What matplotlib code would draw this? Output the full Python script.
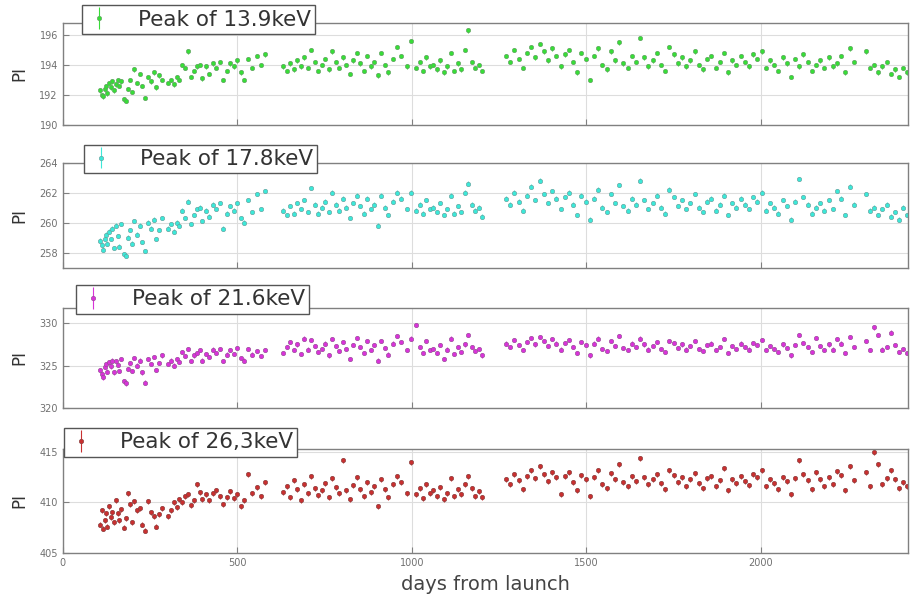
import matplotlib
matplotlib.use("Agg")
import matplotlib.pyplot as plt
import numpy as np

# ---- observation days (shared by all four lines) ----
days_a = [108,112,116,120,124,128,133,138,142,147,152,157,162,168,174,180,186,192,198,205,
          212,220,228,236,244,252,260,268,276,284]
days_b = [300,310,318,326,334,342,350,358,366,375,384,392,400,410,420,430,440,450,460,470,
          480,490,500,510,520,530,542,555,568,580]
days_c = [632,642,652,662,672,682,692,702,712,722,732,742,752,762,772,782,792,802,812,822,
          832,842,852,862,872,882,892,902,912,922,932,945,958,970,985,998]
days_d = [1012,1022,1032,1042,1052,1062,1072,1082,1092,1102,1112,1122,1132,1142,1152,1162,1172,1182,1192,1200]
days_e = [1270,1282,1294,1306,1318,1330,1342,1354,1366,1378,
          1390,1402,1414,1426,1438,1450,1462,1474,1486,1498,
          1510,1522,1534,1546,1558,1570,1582,1594,1606,1618,
          1630,1642,1654,1666,1678,1690,1702,1714,1726,1738,
          1750,1762,1774,1786,1798,1810,1822,1834,1846,1858,
          1870,1882,1894,1906,1918,1930,1942,1954,1966,1978,
          1990,2002,2014,2026,2038,2050,2062,2074,2086,2098,
          2110,2122,2134,2146,2158,2170,2182,2194,2206,2218,
          2230,2242,2254,2266,2300,2312,2324,2336,2348,2360,
          2372,2384,2396,2408,2418]
days = days_a + days_b + days_c + days_d + days_e

# ---- PI of 13.9 keV peak ----
pi_139 = [192.3,192.0,191.9,192.4,192.6,192.1,192.8,192.5,192.9,192.3,
          192.7,193.0,192.6,192.9,191.7,191.6,192.4,193.0,192.2,193.7,
          192.8,193.4,192.6,191.8,193.2,192.9,193.5,192.5,193.3,193.0,
          192.8,193.0,192.7,193.2,193.0,194.0,193.8,194.9,193.2,193.6,
          193.9,194.0,193.1,193.9,193.4,194.1,193.8,194.2,193.0,193.6,
          194.1,193.9,194.3,193.5,193.0,194.4,193.8,194.6,194.0,194.7,
          193.9,193.6,194.1,193.7,194.3,193.9,194.5,193.8,195.0,194.2,
          193.6,194.0,194.4,193.7,194.9,194.2,193.8,194.5,194.0,193.4,
          194.3,194.8,194.1,193.6,194.6,193.9,194.2,193.3,194.8,194.0,
          193.5,194.4,195.2,194.6,193.9,195.6,
          193.8,194.2,193.6,194.5,193.9,194.0,193.7,194.3,193.5,193.9,
          194.8,193.6,194.1,193.7,195.0,196.3,194.2,193.8,194.0,193.6,
          194.6,194.2,195.0,194.4,193.8,194.8,195.2,194.5,195.4,194.9,
          194.3,195.1,194.6,193.9,194.7,195.0,194.2,193.5,194.8,194.4,
          193.0,194.6,195.1,194.0,193.7,194.9,194.3,195.5,194.1,193.8,
          194.6,194.2,195.8,194.5,193.9,194.3,194.8,194.0,193.6,195.2,
          194.7,194.1,194.5,193.9,194.3,194.9,194.0,193.7,194.4,194.6,
          193.8,194.2,194.8,193.5,194.3,194.0,194.6,194.2,193.9,194.7,
          194.4,194.9,193.8,194.3,194.0,193.6,194.5,194.1,193.2,194.4,
          193.9,194.7,194.2,193.6,194.0,194.3,193.8,194.5,193.9,194.1,
          194.6,193.5,195.1,194.2,194.9,193.8,194.0,193.5,193.9,194.2,
          193.4,193.7,193.2,193.8,193.5]

# ---- PI of 17.8 keV peak ----
pi_178 = [258.8,258.5,258.2,258.9,259.2,258.6,259.4,258.9,259.6,258.3,
          259.8,259.1,258.4,259.9,257.9,257.8,259.0,259.5,258.6,260.1,
          259.2,259.8,258.7,258.1,260.0,259.6,260.2,258.9,259.5,260.3,
          259.6,259.9,259.4,260.0,259.8,260.8,260.3,261.4,259.9,260.5,
          260.9,261.0,260.1,260.8,260.4,261.2,260.9,261.3,259.6,260.6,
          261.1,260.8,261.3,260.3,260.0,261.5,260.7,261.9,260.9,262.1,
          260.8,260.5,261.1,260.6,261.3,260.9,261.5,260.7,262.3,261.2,
          260.6,261.0,261.4,260.7,262.0,261.2,260.8,261.6,261.0,260.3,
          261.3,261.8,261.1,260.6,261.6,260.9,261.2,259.8,261.8,261.0,
          260.5,261.4,262.0,261.6,260.9,262.0,
          260.8,261.2,260.6,261.5,260.9,261.0,260.7,261.3,260.5,260.9,
          261.8,260.6,261.1,260.7,262.0,262.6,261.2,260.8,261.0,260.4,
          261.6,261.2,262.0,261.4,260.8,261.8,262.4,261.5,262.8,261.9,
          261.3,262.1,261.6,260.9,261.7,262.0,261.2,260.5,261.8,261.4,
          260.2,261.6,262.2,261.0,260.7,261.9,261.3,262.5,261.1,260.8,
          261.6,261.2,262.8,261.5,260.9,261.3,261.8,261.0,260.6,262.2,
          261.7,261.1,261.5,260.9,261.3,261.9,261.0,260.7,261.4,261.6,
          260.8,261.2,261.8,260.5,261.3,261.0,261.6,261.2,260.9,261.7,
          261.4,262.0,260.8,261.3,261.0,260.6,261.5,261.1,260.2,261.4,
          262.9,261.7,261.2,260.6,261.0,261.3,260.8,261.5,260.9,262.1,
          261.6,260.5,262.4,261.2,261.9,260.8,261.0,260.5,260.9,261.2,
          260.4,260.7,260.2,261.0,260.5]

# ---- PI of 21.6 keV peak ----
pi_216 = [324.5,324.0,323.6,324.8,325.2,324.3,325.4,324.9,325.6,324.2,
          325.5,325.1,324.4,325.8,323.2,322.9,324.6,325.3,324.4,325.9,
          325.0,325.6,324.2,323.0,325.8,325.2,326.0,324.5,325.3,326.2,
          325.2,325.6,325.0,325.8,325.4,326.6,326.1,327.0,325.5,326.2,
          326.5,326.8,325.6,326.4,326.0,326.9,326.5,327.0,325.5,326.3,
          326.8,326.4,327.1,325.9,325.6,327.0,326.3,326.7,326.1,326.8,
          326.5,327.2,327.8,326.8,327.5,326.4,328.2,326.9,328.0,327.3,
          326.6,327.0,327.6,326.2,328.1,327.3,326.7,327.8,327.0,325.8,
          327.4,328.3,327.2,326.5,327.9,326.8,327.4,325.6,327.9,327.1,
          326.3,327.6,328.5,327.8,326.8,328.2,
          329.8,327.2,326.5,327.9,326.8,327.0,326.5,327.4,325.8,326.9,
          328.2,326.4,327.2,326.6,327.5,328.6,327.2,326.7,327.0,326.2,
          327.6,327.2,328.0,327.4,326.8,327.8,328.3,327.5,328.4,327.9,
          327.3,328.1,327.6,326.9,327.7,328.0,327.2,326.5,327.8,327.4,
          326.2,327.6,328.2,327.0,326.7,327.9,327.3,328.5,327.1,326.8,
          327.6,327.2,328.2,327.5,326.9,327.3,327.8,327.0,326.6,327.9,
          327.7,327.1,327.5,326.9,327.3,327.9,327.0,326.7,327.4,327.6,
          326.8,327.2,328.1,326.5,327.3,327.0,327.6,327.2,326.9,327.7,
          327.4,328.0,326.8,327.3,327.0,326.6,327.5,327.1,326.2,327.4,
          328.6,327.7,327.2,326.6,328.3,327.3,326.8,327.5,326.9,328.1,
          327.6,326.5,328.4,327.2,327.9,326.8,329.5,328.6,326.9,327.2,
          328.9,327.4,326.6,327.0,326.5]

# ---- PI of 26.3 keV peak ----
pi_263 = [407.8,409.2,407.4,408.2,408.9,407.6,409.6,408.5,409.0,408.0,
          410.2,408.9,408.2,409.3,407.5,408.4,410.9,409.8,408.0,410.1,
          409.2,409.4,407.8,407.2,410.1,409.0,408.6,407.6,408.8,409.4,
          408.6,409.2,410.0,409.5,410.3,410.0,410.6,410.8,409.7,410.2,
          411.8,411.0,410.3,410.8,410.2,410.9,411.2,410.6,409.8,410.5,
          411.1,410.4,410.8,409.6,410.2,412.8,410.9,411.5,410.6,412.0,
          411.0,411.6,410.5,412.2,411.3,410.2,411.8,410.9,412.6,411.4,
          410.7,411.2,411.9,410.5,412.4,411.5,410.9,414.2,411.2,410.3,
          411.7,412.5,411.3,410.6,412.0,411.0,411.6,409.6,412.3,411.3,
          410.5,411.8,412.6,412.0,410.9,414.0,
          410.8,411.4,410.4,411.8,410.9,411.2,410.6,411.5,410.3,410.9,
          412.4,410.6,411.3,410.8,411.8,412.6,411.4,410.6,411.1,410.5,
          412.3,411.8,412.8,412.2,411.3,412.6,413.2,412.4,413.6,412.8,
          412.1,413.0,412.5,410.8,412.6,413.0,412.0,411.2,412.7,412.3,
          410.6,412.5,413.2,411.8,411.4,412.9,412.3,413.8,412.0,411.6,
          412.6,412.1,414.4,412.5,411.8,412.3,412.8,411.9,411.3,413.2,
          412.7,412.0,412.5,411.6,412.3,412.9,411.9,411.4,412.4,412.6,
          411.6,412.2,413.4,411.2,412.3,411.9,412.6,412.1,411.7,412.8,
          412.5,413.2,411.6,412.3,411.9,411.3,412.5,412.1,410.8,412.4,
          414.2,412.8,412.2,411.3,413.0,412.3,411.6,412.5,411.8,413.1,
          412.7,411.2,413.6,412.2,413.0,411.6,415.0,413.8,411.8,412.4,
          413.2,412.3,411.4,412.0,411.6]

labels = ["Peak of 13.9keV", "Peak of 17.8keV", "Peak of 21.6keV", "Peak of 26,3keV"]
series = [pi_139, pi_178, pi_216, pi_263]
errs = [0.15, 0.15, 0.25, 0.25]
colors = ["#38dc38", "#3ce8d8", "#d833d8", "#c83030"]
edgecols = ["#6a9a6a", "#6a9a98", "#905090", "#804040"]
ylims = [(190, 196.8), (257, 264), (320, 331.8), (405, 415.3)]
yticks = [[190, 192, 194, 196], [258, 260, 262, 264], [320, 325, 330], [405, 410, 415]]
xticks = [0, 500, 1000, 1500, 2000]

# layout (figure fractions)
boxes = [(0.069, 0.7906, 0.929, 0.171),
         (0.069, 0.5516, 0.929, 0.176),
         (0.069, 0.3166, 0.929, 0.1675),
         (0.069, 0.0742, 0.929, 0.1737)]
leg_anchor = [(0.0228, 1.173), (0.0252, 1.169), (0.0157, 1.23), (0.0015, 1.202)]

fig = plt.figure(figsize=(9.1, 5.97), dpi=100)
for i in range(4):
    ax = fig.add_axes(boxes[i])
    ax.errorbar(days, series[i], yerr=errs[i], fmt='o', color=colors[i],
                markersize=3.2, markerfacecolor=colors[i], markeredgecolor=edgecols[i],
                markeredgewidth=0.4, elinewidth=0.8, capsize=0, label=labels[i])
    ax.set_xlim(0, 2422)
    ax.set_ylim(*ylims[i])
    ax.set_yticks(yticks[i])
    ax.set_xticks(xticks)
    ax.grid(True, color='#dddddd', linewidth=0.8)
    ax.set_axisbelow(True)
    for s in ax.spines.values():
        s.set_color('#808080')
        s.set_linewidth(1.0)
    ax.tick_params(axis='both', labelsize=7, colors='#808080', labelcolor='#707070',
                   direction='in', length=4)
    ax.set_ylabel("PI", fontsize=12, color='#333333', labelpad=8)
    if i < 3:
        ax.set_xticklabels([])
    else:
        ax.set_xlabel("days from launch", fontsize=14, color='#444444', labelpad=5)
    leg = ax.legend(loc='upper left', bbox_to_anchor=leg_anchor[i], borderaxespad=0,
                    fontsize=15.5, frameon=True, fancybox=False, framealpha=1,
                    edgecolor='#555555', handlelength=1.2, handletextpad=1.2,
                    borderpad=0.2)
    leg.get_frame().set_linewidth(1.0)
    for t in leg.get_texts():
        t.set_color('#333333')

fig.savefig("out.png", dpi=100)
